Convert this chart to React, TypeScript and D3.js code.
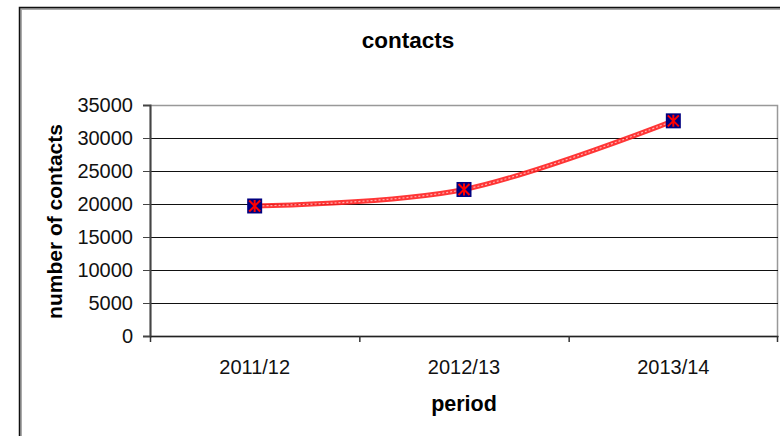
import { useEffect, useRef } from "react";
import * as d3 from "d3";

// ---------------------------------------------------------------------------
// Data
// ---------------------------------------------------------------------------

const PERIODS = ["2011/12", "2012/13", "2013/14"];
const CONTACTS = [19700, 22200, 32600];
const Y_TICKS = [0, 5000, 10000, 15000, 20000, 25000, 30000, 35000];

const W = 780;
const H = 436;

export default function App() {
  const svgRef = useRef<SVGSVGElement>(null);

  useEffect(() => {
    const svg = d3.select(svgRef.current);
    svg.selectAll("*").remove();

    const font = "Arial, 'Liberation Sans', sans-serif";
    const margin = { top: 105, right: 2, bottom: 100, left: 150 };
    const innerW = W - margin.left - margin.right;
    const innerH = H - margin.top - margin.bottom;

    // outer chart border (with a soft grey shadow)
    svg
      .append("path")
      .attr("d", `M20.5,${H} V8.5 H${W}`)
      .attr("fill", "none")
      .attr("stroke", "#aaa")
      .attr("stroke-width", 3);
    svg
      .append("path")
      .attr("d", `M19.5,${H} V7.5 H${W}`)
      .attr("fill", "none")
      .attr("stroke", "#111")
      .attr("stroke-width", 1.5);

    // title
    svg
      .append("text")
      .attr("x", 408)
      .attr("y", 48)
      .attr("text-anchor", "middle")
      .attr("font-family", font)
      .attr("font-weight", "bold")
      .attr("font-size", 22.5)
      .text("contacts");

    const g = svg
      .append("g")
      .attr("transform", `translate(${margin.left},${margin.top})`);

    // ---- Scales ----
    const x = d3.scaleBand().domain(PERIODS).range([0, innerW]);
    const y = d3.scaleLinear().domain([0, 35000]).range([innerH, 0]);

    // plot frame
    g.append("rect")
      .attr("x", 0.5)
      .attr("y", 0.5)
      .attr("width", innerW - 1)
      .attr("height", innerH)
      .attr("fill", "none")
      .attr("stroke", "#999")
      .attr("stroke-width", 1.5);

    // ---- Gridlines ----
    g.append("g")
      .selectAll("line")
      .data(Y_TICKS.filter((t) => t > 0 && t < 35000))
      .join("line")
      .attr("x1", 0)
      .attr("x2", innerW)
      .attr("y1", (d) => Math.round(y(d)) + 0.5)
      .attr("y2", (d) => Math.round(y(d)) + 0.5)
      .attr("stroke", "#111")
      .attr("stroke-width", 1.2);

    // ---- Axes ----
    const yAxis = d3
      .axisLeft(y)
      .tickValues(Y_TICKS)
      .tickSize(7)
      .tickPadding(10)
      .tickFormat((d) => String(d));

    g.append("g")
      .call(yAxis)
      .call((sel) => sel.select(".domain").attr("stroke", "#444").attr("stroke-width", 2))
      .call((sel) => sel.selectAll(".tick line").attr("stroke", "#444"))
      .call((sel) =>
        sel
          .selectAll("text")
          .attr("fill", "#111")
          .attr("font-size", 20)
          .attr("font-family", font)
      );

    const xAxis = d3.axisBottom(x).tickSize(0).tickPadding(24);
    const gx = g
      .append("g")
      .attr("transform", `translate(0,${innerH})`)
      .call(xAxis)
      .call((sel) => sel.select(".domain").attr("stroke", "#222").attr("stroke-width", 1.5))
      .call((sel) =>
        sel
          .selectAll("text")
          .attr("fill", "#111")
          .attr("font-size", 20)
          .attr("font-family", font)
      );

    // category separator ticks
    gx.append("g")
      .selectAll("line")
      .data(d3.range(PERIODS.length + 1))
      .join("line")
      .attr("x1", (i) => Math.min(innerW - 0.5, i * x.bandwidth() + 0.5))
      .attr("x2", (i) => Math.min(innerW - 0.5, i * x.bandwidth() + 0.5))
      .attr("y1", 0)
      .attr("y2", 6)
      .attr("stroke", "#333")
      .attr("stroke-width", 1.5);

    // axis titles
    g.append("text")
      .attr("x", innerW / 2)
      .attr("y", innerH + 75)
      .attr("text-anchor", "middle")
      .attr("font-family", font)
      .attr("font-weight", "bold")
      .attr("font-size", 21.5)
      .text("period");

    g.append("text")
      .attr("transform", `translate(${-88},${innerH / 2 + 1}) rotate(-90)`)
      .attr("text-anchor", "middle")
      .attr("font-family", font)
      .attr("font-weight", "bold")
      .attr("font-size", 21)
      .text("number of contacts");

    // ---- Line ----
    const pts: [number, number][] = PERIODS.map((p, i) => [
      (x(p) ?? 0) + x.bandwidth() / 2,
      y(CONTACTS[i]),
    ]);

    const line = d3.line().curve(d3.curveCardinal.tension(0));
    g.append("path")
      .attr("d", line(pts))
      .attr("fill", "none")
      .attr("stroke", "#ff2020")
      .attr("stroke-width", 5)
      .attr("stroke-opacity", 0.9);
    g.append("path")
      .attr("d", line(pts))
      .attr("fill", "none")
      .attr("stroke", "#ffb0b0")
      .attr("stroke-width", 1.2)
      .attr("stroke-dasharray", "2,2");

    // ---- Markers ----
    const s = 15;
    const m = g
      .append("g")
      .selectAll("g")
      .data(pts)
      .join("g")
      .attr("transform", (d) => `translate(${d[0]},${d[1]})`);

    m.append("rect")
      .attr("x", -s / 2)
      .attr("y", -s / 2)
      .attr("width", s)
      .attr("height", s)
      .attr("fill", "#000080");

    const r = 5.5;
    const star = `M${-r},${-r}L${r},${r}M${-r},${r}L${r},${-r}M0,${-r - 0.5}L0,${r + 0.5}`;
    m.append("path")
      .attr("d", star)
      .attr("stroke", "#ff0000")
      .attr("stroke-width", 2)
      .attr("fill", "none");
  }, []);

  return (
    <svg
      ref={svgRef}
      width={W}
      height={H}
      style={{ display: "block", position: "absolute", left: 0, top: 0, background: "#fff" }}
    />
  );
}
